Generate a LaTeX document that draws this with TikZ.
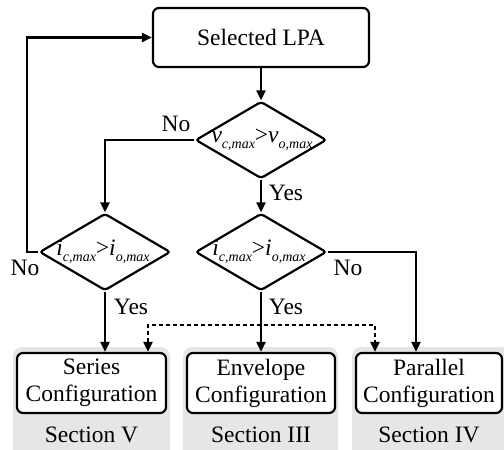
\documentclass[tikz,border=0pt]{standalone}
\usepackage{fontspec}
\setmainfont{Liberation Serif}
\usetikzlibrary{arrows.meta,shapes.geometric,calc}
\definecolor{secgray}{HTML}{E6E6E8}
\newcommand{\mysb}[1]{\raisebox{-0.28em}{\fontsize{14}{14}\selectfont\itshape #1}}
\begin{document}
\begin{tikzpicture}[x=1pt,y=-1pt,
  every node/.style={font=\fontsize{23.5}{27}\selectfont},
  box/.style={draw,line width=2.2pt,rounded corners=6pt,fill=white,align=center,inner sep=0pt},
  dia/.style={draw,diamond,line width=2.2pt,rounded corners=3pt,minimum width=131pt,minimum height=77pt,inner sep=0pt,fill=white},
  conn/.style={line width=2.2pt,-{Triangle[length=10pt,width=9pt]}},
  dsh/.style={line width=2.2pt,dash pattern=on 4pt off 3pt},
  grayback/.style={fill=secgray,rounded corners=9pt},
  lbl/.style={inner sep=0pt}
]
\useasboundingbox (0,0) rectangle (504,450);
% gray backgrounds
\fill[grayback] (13,347) rectangle (170,460);
\fill[grayback] (183,347) rectangle (338,460);
\fill[grayback] (352,347) rectangle (515,460);
% nodes
\node[box,minimum width=216pt,minimum height=59pt] (lpa) at (261,37.5) {Selected LPA};
\node[dia] (d1) at (261,140) {};
\node[lbl] (d1t) at ([xshift=1pt]d1.center) {\textit{v}\mysb{c,max}>\textit{v}\mysb{o,max}};
\node[dia] (d2) at (105,252) {};
\node[lbl] (d2t) at ([xshift=-2pt]d2.center) {\textit{i}\mysb{c,max}>\textit{i}\mysb{o,max}};
\node[dia] (d3) at (261,252) {};
\node[lbl] (d3t) at ([xshift=-2pt]d3.center) {\textit{i}\mysb{c,max}>\textit{i}\mysb{o,max}};
\node[box,minimum width=149pt,minimum height=60pt] (ser) at (91.5,383) {Series\\Configuration};
\node[box,minimum width=148pt,minimum height=60pt] (env) at (261,383) {Envelope\\Configuration};
\node[box,minimum width=146pt,minimum height=60pt] (par) at (429,383) {Parallel\\Configuration};
\node[lbl] (s5) at (91.5,435) {Section V};
\node[lbl] (s3) at (261,435) {Section III};
\node[lbl] (s4) at (429,435) {Section IV};
% labels
\node[lbl] (no1) at (176,124) {No};
\node[lbl] (yes1) at (286,193) {Yes};
\node[lbl] (no2) at (25,268) {No};
\node[lbl] (yes2) at (131,307) {Yes};
\node[lbl] (yes3) at (286,307) {Yes};
\node[lbl] (no3) at (348,268) {No};
% coordinates
\coordinate (loopx) at (27,0);
\coordinate (rx) at (416,0);
\coordinate (dsL) at (148,325);
\coordinate (dsR) at (375,325);
% connectors
\draw[conn] (lpa.south) -- (d1.north);
\draw[conn] (d1.south) -- (d3.north);
\draw[conn] (d1.west) -| (d2.north);
\draw[conn] (d2.west) -| (loopx |- lpa.west) -- (lpa.west);
\draw[conn] (d3.east) -| (rx |- par.north);
\draw[conn] (d2.south) -- (d2.south |- ser.north);
\draw[conn] (d3.south) -- (env.north);
\draw[dsh,{Triangle[length=10pt,width=9pt]}-{Triangle[length=10pt,width=9pt]}] (dsL |- ser.north) -- (dsL) -- (dsR) -- (dsR |- par.north);
\end{tikzpicture}
\end{document}
